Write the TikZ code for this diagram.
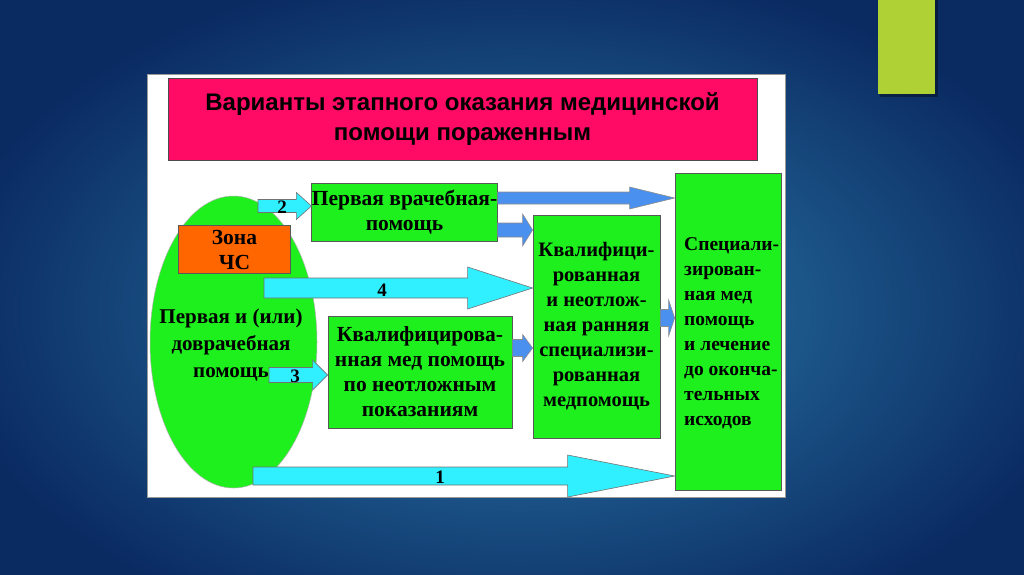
\documentclass[tikz,border=0pt]{standalone}
\usepackage{fontspec}
\setmainfont{Liberation Serif}
\newfontfamily\titlefont{Liberation Sans}
\usetikzlibrary{calc,shapes.geometric}
\definecolor{bgin}{HTML}{2D7FAD}
\definecolor{bgout}{HTML}{0A2A62}
\definecolor{limebar}{HTML}{AFD136}
\definecolor{titlepink}{HTML}{FF0A64}
\definecolor{boxgreen}{HTML}{1EF01E}
\definecolor{zoneorange}{HTML}{FF6600}
\definecolor{cyanarrow}{HTML}{30F0FF}
\definecolor{bluearrow}{HTML}{4A90EE}
\tikzset{
  gbox/.style={draw=black!65, line width=0.8pt, fill=boxgreen, inner sep=0pt, align=center,
    font=\fontsize{21.5}{25}\selectfont\bfseries},
  carrow/.style={fill=cyanarrow, draw=black!55, line width=0.6pt},
  barrow/.style={fill=bluearrow, draw=black!45, line width=0.6pt},
  numlabel/.style={font=\fontsize{19}{22}\selectfont\bfseries, inner sep=0pt}
}
% #1 style, #2 start node/coord (x), #3 tip coord, #4 shaft half, #5 head half, #6 head length
\newcommand\blockarrow[6]{%
  \coordinate (ba-s) at (#2 |- #3);
  \filldraw[#1] ($(ba-s)+(0,-#4)$) -- ($(#3)+(-#6,-#4)$) -- ($(#3)+(-#6,-#5)$) -- (#3)
    -- ($(#3)+(-#6,#5)$) -- ($(#3)+(-#6,#4)$) -- ($(ba-s)+(0,#4)$) -- cycle;}
\begin{document}
\begin{tikzpicture}[x=1pt,y=-1pt]
\useasboundingbox (0,0) rectangle (1024,574);
% background
\fill[bgout] (0,0) rectangle (1024,574);
\shade[inner color=bgin, outer color=bgout] (-60,-40) rectangle (1100,660);
% lime bar
\fill[black,opacity=0.35] (880,0) rectangle (938,97);
\fill[limebar] (878,0) rectangle (935,94);
% white panel
\fill[white, draw=black!40, line width=0.5pt] (147,74) rectangle (785,497);
% title
\node[draw=black!70, line width=0.8pt, fill=titlepink, minimum width=589, minimum height=82,
  inner sep=0pt, align=center, font=\titlefont\fontsize{24}{30}\selectfont\bfseries]
  (title) at (462.5,119) {Варианты этапного оказания медицинской\\помощи пораженным};
% ellipse
\node[ellipse, fill=boxgreen, draw=black!30, line width=0.5pt, minimum width=167, minimum height=292,
  inner sep=0pt] (ell) at (233.5,342) {};
\node[align=center, inner sep=0pt, font=\fontsize{21}{27}\selectfont\bfseries]
  (elltext) at (231,345) {Первая и (или)\\доврачебная\\помощь};
% zone
\node[gbox, fill=zoneorange, minimum width=112, minimum height=48,
  font=\fontsize{21.5}{25}\selectfont\bfseries] (zone) at (234.5,249.5) {Зона\\ЧС};
% boxes
\node[gbox, minimum width=185, minimum height=58] (first) at (404.5,212) {Первая врачебная-\\помощь};
\node[gbox, minimum width=184, minimum height=112] (urgent) at (420,372)
  {Квалифицирова-\\нная мед помощь\\по неотложным\\показаниям};
\node[gbox, minimum width=127, minimum height=223, font=\fontsize{20.5}{25}\selectfont\bfseries]
  (qual) at (596.5,326.5)
  {Квалифици-\\рованная\\ и неотлож-\\ная ранняя\\специализи-\\рованная\\медпомощь};
\node[gbox, minimum width=106, minimum height=317] (spec) at (728,331.5) {};
\node[anchor=west, align=left, inner sep=0pt, font=\fontsize{19.5}{25}\selectfont\bfseries]
  (spectext) at (684,333) {Специали-\\зирован-\\ная мед\\помощь\\и лечение\\до оконча-\\тельных\\исходов};
% tips
\coordinate (t2) at ($(first.west)+(0,-6)$);
\coordinate (t4) at ($(qual.west)+(0,-38.5)$);
\coordinate (t3) at ($(urgent.west)+(0,3)$);
\coordinate (t1) at ($(spec.west)+(0,144.5)$);
\coordinate (s2) at (258,0);
\coordinate (s4) at (264,0);
\coordinate (s3) at (269,0);
\coordinate (s1) at (253,0);
\coordinate (tb1) at ($(spec.west)+(0,-133.5)$);
\coordinate (tb2) at ($(qual.west)+(0,-96.5)$);
\coordinate (tb3) at ($(qual.west)+(0,21.5)$);
\coordinate (tb4) at ($(spec.west)+(0,-13.5)$);
% cyan arrows
\blockarrow{carrow}{s2}{t2}{6.5}{13.5}{15}
\blockarrow{carrow}{s4}{t4}{10}{21}{65}
\blockarrow{carrow}{s3}{t3}{7.5}{15}{15}
\blockarrow{carrow}{s1}{t1}{9}{21}{107}
% blue arrows
\blockarrow{barrow}{first.east}{tb1}{6}{11}{45}
\blockarrow{barrow}{first.east}{tb2}{7}{16}{10}
\blockarrow{barrow}{urgent.east}{tb3}{8.5}{13.5}{10}
\blockarrow{barrow}{qual.east}{tb4}{8.5}{18}{6}
% labels
\node[numlabel] (l2) at (282,207) {2};
\node[numlabel] (l4) at (382,290) {4};
\node[numlabel] (l3) at (295,376) {3};
\node[numlabel] (l1) at (440,477) {1};
\end{tikzpicture}
\end{document}
